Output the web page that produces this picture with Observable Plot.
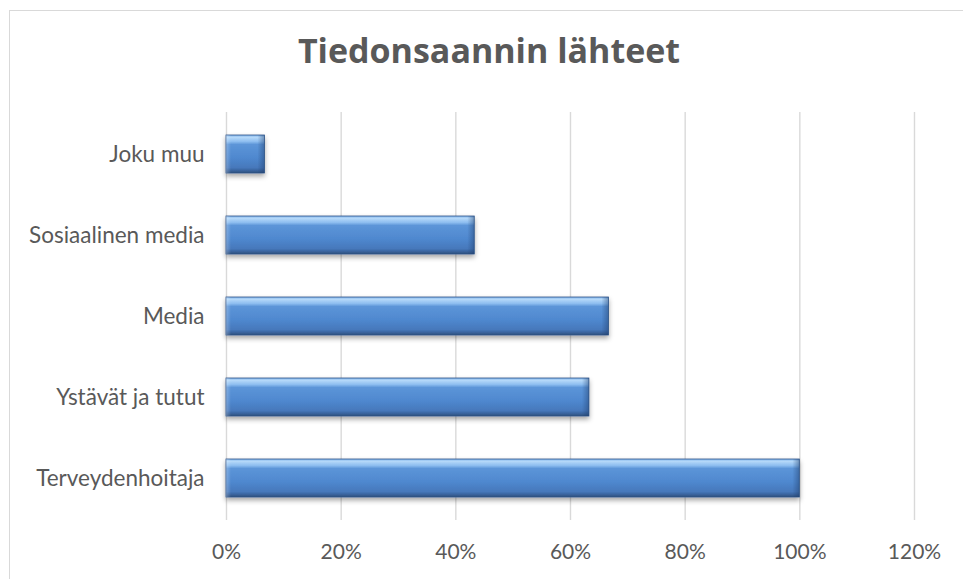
<!DOCTYPE html>
<html>
<head>
<meta charset="utf-8">
<script src="https://cdn.jsdelivr.net/npm/d3@7"></script>
<script src="https://cdn.jsdelivr.net/npm/@observablehq/plot@0.6"></script>
<style>
  html, body { margin: 0; padding: 0; background: #fff; }
  #wrap { position: relative; width: 963px; height: 579px; overflow: hidden; background: #fff; }
  #frame { position: absolute; left: 9px; top: 10px; width: 1000px; height: 1000px; border-left: 1.5px solid #d9d9d9; border-top: 1.5px solid #d9d9d9; }
  #title { position: absolute; left: 0; top: 33px; width: 978px; text-align: center; font-family: "Open Sans", Lato, sans-serif; font-weight: bold; font-size: 34px; color: #595959; line-height: 1; }
  #chart { position: absolute; left: 0; top: 90px; }
</style>
</head>
<body>
<div id="wrap">
  <div id="frame"></div>
  <div id="title"></div>
  <div id="chart"></div>
</div>
<script>
const titleText = "Tiedonsaannin lähteet";
const categories = ["Joku muu", "Sosiaalinen media", "Media", "Ystävät ja tutut", "Terveydenhoitaja"];
const values = [0.067, 0.433, 0.667, 0.633, 1.0];
const xTicks = [0, 0.2, 0.4, 0.6, 0.8, 1.0, 1.2];

document.getElementById("title").textContent = titleText;
const data = categories.map((c, i) => ({category: c, value: values[i]}));

function defs() {
  const ns = "http://www.w3.org/2000/svg";
  const d = document.createElementNS(ns, "defs");
  d.innerHTML = `
    <linearGradient id="barGrad" x1="0" y1="0" x2="0" y2="1">
      <stop offset="0" stop-color="#7fb2ea"/>
      <stop offset="0.06" stop-color="#b6d9f9"/>
      <stop offset="0.17" stop-color="#8ebef0"/>
      <stop offset="0.25" stop-color="#5c95d8"/>
      <stop offset="0.6" stop-color="#4f88cf"/>
      <stop offset="0.86" stop-color="#4678bb"/>
      <stop offset="0.95" stop-color="#375f96"/>
      <stop offset="1" stop-color="#2a4b78"/>
    </linearGradient>
    <linearGradient id="endRight" x1="0" y1="0" x2="1" y2="0">
      <stop offset="0" stop-color="#1e3c6a" stop-opacity="0"/>
      <stop offset="1" stop-color="#1e3c6a" stop-opacity="0.45"/>
    </linearGradient>
    <linearGradient id="endLeft" x1="0" y1="0" x2="1" y2="0">
      <stop offset="0" stop-color="#ffffff" stop-opacity="0.25"/>
      <stop offset="1" stop-color="#ffffff" stop-opacity="0"/>
    </linearGradient>
    <filter id="shadow" x="-10%" y="-30%" width="120%" height="170%">
      <feDropShadow dx="0" dy="3" stdDeviation="2.5" flood-color="#000" flood-opacity="0.35"/>
    </filter>`;
  return d;
}

const plot = Plot.plot({
  width: 963,
  height: 489,
  marginTop: 22,
  marginBottom: 59,
  marginLeft: 226,
  marginRight: 49,
  style: {fontFamily: "Lato, 'Open Sans', sans-serif", fontSize: "21px", color: "#595959", background: "transparent"},
  x: {domain: [0, 1.2], label: null},
  y: {domain: categories, paddingInner: 0.53, paddingOuter: 0.265, label: null},
  marks: [
    defs,
    Plot.ruleX(xTicks, {stroke: "#d9d9d9", strokeWidth: 1.4}),
    Plot.axisX({ticks: xTicks, tickFormat: d3.format(".0%"), tickSize: 0, tickPadding: 24, fontSize: 21, label: null}),
    Plot.axisY({tickSize: 0, tickPadding: 22, fontSize: 22.5, label: null}),
    Plot.barX(data, {x1: 0, x2: "value", y: "category", fill: "url(#barGrad)", stroke: "#2f568a", strokeWidth: 0.8}),
    Plot.rectX(data, {x1: "value", x2: "value", y: "category", insetLeft: -7, fill: "url(#endRight)"}),
    Plot.rectX(data, {x1: 0, x2: 0, y: "category", insetRight: -5, fill: "url(#endLeft)"})
  ]
});

document.getElementById("chart").appendChild(plot);
const bars = plot.querySelector('g[aria-label="bar"]');
if (bars) bars.setAttribute("filter", "url(#shadow)");
</script>
</body>
</html>
